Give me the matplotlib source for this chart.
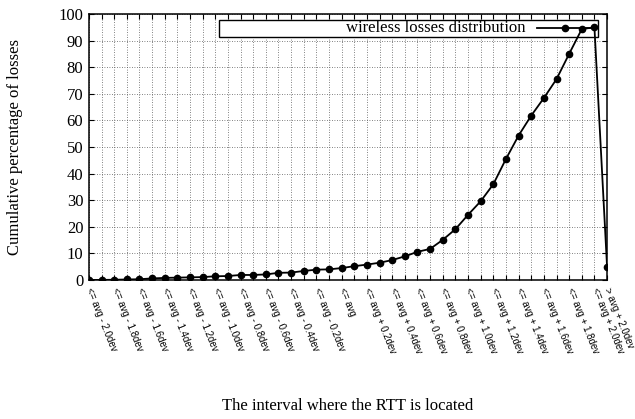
import numpy as np
import matplotlib
matplotlib.use("Agg")
import matplotlib.pyplot as plt
from matplotlib.patches import Rectangle
from matplotlib.lines import Line2D

# Intervalle: avg - 2.0dev ... avg + 2.0dev in Schritten von 0.1dev, plus "> avg + 2.0dev"
steps = [round(-2.0 + 0.1 * i, 1) for i in range(41)]
kategorien = []
for s in steps:
    if s == 0:
        kategorien.append("<= avg")
    elif s < 0:
        kategorien.append(f"<= avg - {abs(s):.1f}dev")
    else:
        kategorien.append(f"<= avg + {s:.1f}dev")
kategorien.append("> avg + 2.0dev")

# kumulativer Anteil der Verluste in %
werte = [0.0, 0.05, 0.1, 0.2, 0.3, 0.6, 0.8, 0.9, 1.0, 1.1,
         1.4, 1.5, 1.9, 1.9, 2.1, 2.7, 2.8, 3.4, 3.9, 4.0,
         4.5, 5.2, 5.8, 6.5, 7.5, 8.9, 10.6, 11.7, 15.1, 19.1,
         24.5, 29.6, 36.0, 45.5, 54.3, 61.8, 68.4, 75.5, 85.0, 94.3,
         95.0, 5.0]

# nur jedes zweite Intervall beschriften (plus das letzte)
tick_labels = [k if (i % 2 == 0 or i == len(kategorien) - 1) else ""
               for i, k in enumerate(kategorien)]

serif = ["Liberation Serif", "DejaVu Serif"]
sans = ["Liberation Sans", "DejaVu Sans"]

fig = plt.figure(figsize=(6.35, 4.19), dpi=100)
ax = fig.add_axes([0.140, 0.3317, 0.816, 0.635])

x = np.arange(len(werte))
ax.plot(x, werte, color="black", lw=1.3, marker="o", markersize=4.5, zorder=4)

ax.set_xlim(0, len(werte) - 1)
ax.set_ylim(0, 100)
ax.set_yticks(np.arange(0, 101, 10))
ax.set_xticks(x)
ax.set_xticklabels(tick_labels, rotation=-68, ha="left", va="center",
                   rotation_mode="anchor", family=sans, fontsize=7.0)
for lab in ax.get_yticklabels():
    lab.set_family(serif)
    lab.set_fontsize(12)

ax.tick_params(axis="both", direction="in", top=True, right=True, length=3.5, width=0.8)
ax.tick_params(axis="x", pad=6)
ax.tick_params(axis="y", pad=4)
for sp in ax.spines.values():
    sp.set_linewidth(1.1)

ax.grid(True, color="0.35", linestyle=(0, (1, 2)), lw=0.6)
ax.set_axisbelow(True)

ax.set_ylabel("Cumulative percentage of losses", family=serif, fontsize=12)
ax.yaxis.set_label_coords(-0.128, 0.5)
ax.set_xlabel("The interval where the RTT is located", family=serif, fontsize=12)
ax.xaxis.set_label_coords(0.5, -0.444)

# Legende (Kasten im Stil von gnuplot)
ax.add_patch(Rectangle((0.251, 0.914), 0.732, 0.063, transform=ax.transAxes,
                       facecolor="white", edgecolor="black", lw=1.0, zorder=2.5))
ax.text(0.842, 0.946, "wireless losses distribution", transform=ax.transAxes,
        ha="right", va="center", family=serif, fontsize=12, zorder=2.6)
ax.add_line(Line2D([0.865, 0.975], [0.946, 0.946], transform=ax.transAxes,
                   color="black", lw=1.3, zorder=4))
ax.add_line(Line2D([0.919], [0.946], transform=ax.transAxes, color="black",
                   marker="o", markersize=4.5, zorder=4))

fig.savefig("out.png", dpi=100)
